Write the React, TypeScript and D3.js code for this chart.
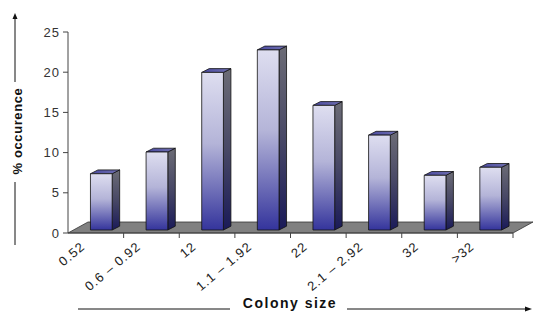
import React from "react";
import * as d3 from "d3";

const categories = ["0.52", "0.6 – 0.92", "12", "1.1 – 1.92", "22", "2.1 – 2.92", "32", ">32"];
const values = [7.0, 9.7, 19.6, 22.4, 15.5, 11.8, 6.8, 7.8];
const yTicks = [0, 5, 10, 15, 20, 25];

const W = 533, H = 314;
const x0 = 68, x1 = 513;
const floorDx = 20, floorDy = 11;
const barDx = 5.5, barDy = 3; // bar placement depth inside floor
const depthDx = 7.5, depthDy = 3.8; // bar own depth

export default function App() {
  const x = d3.scaleBand<string>().domain(categories).range([x0, x1]).padding(0);
  const y = d3.scaleLinear().domain([0, 25]).range([233, 32]);
  const bw = x.bandwidth() * 0.39;
  const font = "Arial, 'Liberation Sans', sans-serif";
  return (
    <svg width={W} height={H} style={{ position: "absolute", left: 0, top: 0, background: "#fff" }}>
      <defs>
        <linearGradient id="front" x1="0" y1="0" x2="0" y2="1">
          <stop offset="0" stopColor="#dedef0" />
          <stop offset="0.45" stopColor="#b4b4d8" />
          <stop offset="1" stopColor="#34349c" />
        </linearGradient>
        <linearGradient id="side" x1="0" y1="0" x2="0" y2="1">
          <stop offset="0" stopColor="#6c6c76" />
          <stop offset="0.5" stopColor="#484866" />
          <stop offset="1" stopColor="#1a1a58" />
        </linearGradient>
        <linearGradient id="topf" x1="0" y1="0" x2="1" y2="0">
          <stop offset="0" stopColor="#4a4aa0" />
          <stop offset="1" stopColor="#7070b0" />
        </linearGradient>
      </defs>
      {/* floor */}
      <polygon
        points={`${x0},${y(0)} ${x1},${y(0)} ${x1 + floorDx},${y(0) - floorDy} ${x0 + floorDx},${y(0) - floorDy}`}
        fill="#808080" stroke="#333" strokeWidth={0.8}
      />
      {/* y axis */}
      <line x1={x0} x2={x0} y1={y(25)} y2={y(0)} stroke="#444" strokeWidth={1} />
      {yTicks.map((t) => (
        <g key={t}>
          <line x1={x0 - 5} x2={x0} y1={y(t)} y2={y(t)} stroke="#444" />
          <text x={x0 - 8} y={y(t)} dy="0.35em" textAnchor="end" fontFamily={font} fontSize={13} letterSpacing={1} fill="#333">{t}</text>
        </g>
      ))}
      {/* x axis */}
      <line x1={x0} x2={x1} y1={y(0)} y2={y(0)} stroke="#444" />
      {categories.map((c, i) => (
        <line key={"t" + i} x1={(x(c) as number) + x.bandwidth()} x2={(x(c) as number) + x.bandwidth()} y1={y(0)} y2={y(0) + 5} stroke="#444" />
      ))}
      {/* bars */}
      {categories.map((c, i) => {
        const cx = (x(c) as number) + x.bandwidth() / 2 + barDx;
        const l = cx - bw / 2, r = cx + bw / 2;
        const yb = y(0) - barDy;
        const yt = y(values[i]) - barDy;
        return (
          <g key={c} stroke="#111" strokeWidth={0.8} strokeLinejoin="round">
            <polygon points={`${r},${yt} ${r + depthDx},${yt - depthDy} ${r + depthDx},${yb - depthDy} ${r},${yb}`} fill="url(#side)" />
            <polygon points={`${l},${yt} ${r},${yt} ${r + depthDx},${yt - depthDy} ${l + depthDx},${yt - depthDy}`} fill="url(#topf)" />
            <rect x={l} y={yt} width={bw} height={yb - yt} fill="url(#front)" />
          </g>
        );
      })}
      {/* x labels */}
      {categories.map((c) => {
        const cx = (x(c) as number) + x.bandwidth() / 2;
        return (
          <text key={"l" + c} transform={`translate(${cx - 10},${248}) rotate(-40)`} textAnchor="end" fontFamily={font} fontSize={13} letterSpacing={1} fill="#222">{c}</text>
        );
      })}
      {/* y title */}
      <text transform={`translate(22,131) rotate(-90)`} textAnchor="middle" fontFamily={font} fontSize={13} fontWeight="bold" letterSpacing={0.6} fill="#111">% occurence</text>
      <line x1={15} x2={15} y1={245} y2={182} stroke="#111" />
      <line x1={15} x2={15} y1={82} y2={18} stroke="#111" />
      <polygon points="15,13 12.5,19 17.5,19" fill="#111" />
      {/* x title */}
      <text x={290} y={308} textAnchor="middle" fontFamily={font} fontSize={14} fontWeight="bold" letterSpacing={1.5} fill="#111">Colony size</text>
      <line x1={78} x2={230} y1={309} y2={309} stroke="#111" />
      <line x1={347} x2={526} y1={309} y2={309} stroke="#111" />
      <polygon points="532,309 525,306.5 525,311.5" fill="#111" />
    </svg>
  );
}
